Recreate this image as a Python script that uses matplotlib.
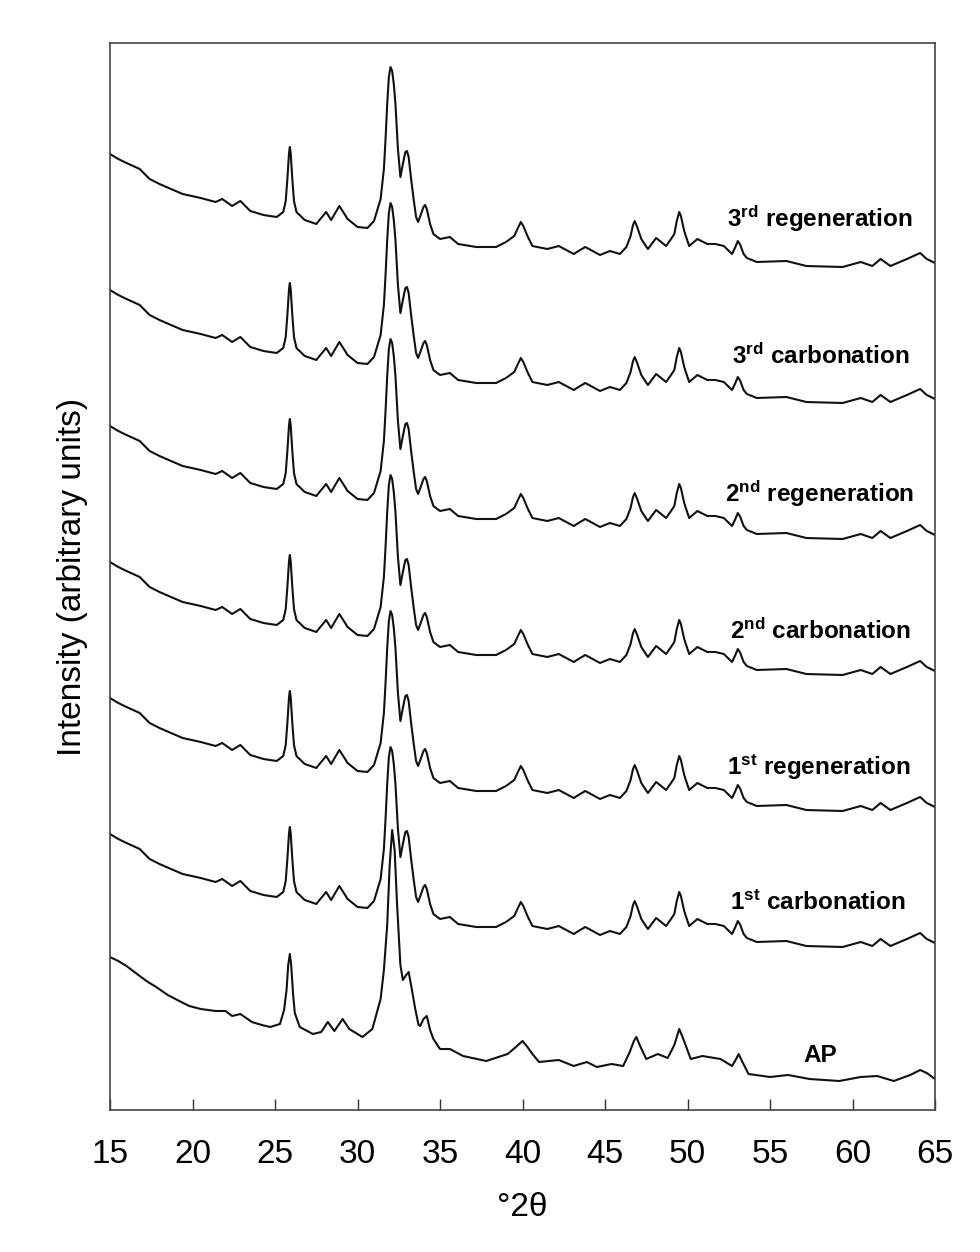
import matplotlib.pyplot as plt
from matplotlib import rcParams

# Шрифты
rcParams['font.family'] = ['Liberation Sans', 'DejaVu Sans']
rcParams['mathtext.fontset'] = 'custom'
rcParams['mathtext.rm'] = 'Liberation Sans:bold'
rcParams['mathtext.bf'] = 'Liberation Sans:bold'
rcParams['mathtext.default'] = 'rm'

# Профиль образцов после циклов (угол 2θ и интенсивность, отн. ед.)
two_theta_cyc = [15.0, 15.5, 16.0, 16.8, 17.4, 18.0, 19.4, 20.5, 21.4, 21.8, 22.4, 22.9,
                 23.5, 24.3, 25.1, 25.5, 25.65, 25.75, 25.85, 25.9, 25.95, 26.05, 26.15, 26.3,
                 26.8, 27.5, 28.1, 28.4, 28.9, 29.4, 30.0, 30.6, 31.0, 31.4, 31.6, 31.7,
                 31.8, 31.9, 32.0, 32.1, 32.2, 32.3, 32.45, 32.6, 32.75, 32.9, 33.0, 33.1,
                 33.25, 33.4, 33.55, 33.67, 33.85, 34.0, 34.1, 34.2, 34.4, 34.6, 35.0, 35.6,
                 36.1, 37.2, 38.4, 39.0, 39.5, 39.75, 39.9, 40.05, 40.3, 40.6, 41.5, 42.2,
                 43.1, 43.8, 44.7, 45.3, 45.9, 46.3, 46.55, 46.7, 46.8, 46.95, 47.2, 47.6,
                 48.1, 48.7, 49.0, 49.2, 49.35, 49.5, 49.6, 49.8, 50.1, 50.6, 51.2, 51.7,
                 52.2, 52.7, 52.9, 53.05, 53.2, 53.4, 53.6, 54.2, 56.0, 57.2, 59.4, 60.5,
                 61.2, 61.7, 62.3, 63.3, 64.1, 64.5, 65.0]
intensity_cyc = [115, 110, 106, 100, 90, 85, 75, 71, 67, 70, 63, 68,
                 58, 54, 52, 57, 68, 90, 116, 122, 116, 90, 68, 57,
                 49, 45, 57, 49, 63, 50, 42, 41, 48, 70, 100, 130,
                 165, 192, 202, 198, 185, 165, 120, 92, 105, 117, 118, 112,
                 90, 70, 52, 47, 55, 62, 64, 60, 45, 35, 30, 32,
                 25, 22, 22, 27, 33, 42, 47, 43, 33, 23, 20, 23,
                 15, 22, 14, 18, 15, 22, 33, 44, 48, 42, 30, 20,
                 31, 23, 30, 35, 48, 57, 53, 38, 23, 30, 25, 25,
                 23, 15, 22, 28, 24, 15, 11, 7, 8, 3, 2, 7,
                 3, 10, 3, 10, 16, 10, 6]

# Профиль исходного образца (AP)
two_theta_ap = [15.0, 15.5, 16.0, 16.8, 17.3, 17.8, 18.5, 19.2, 19.8, 20.5, 21.4, 22.0,
                22.4, 22.9, 23.6, 24.2, 24.7, 25.3, 25.55, 25.7, 25.8, 25.9, 25.98, 26.1,
                26.2, 26.5, 27.3, 27.8, 28.2, 28.6, 29.1, 29.5, 30.3, 30.9, 31.4, 31.6,
                31.8, 31.95, 32.1, 32.25, 32.4, 32.6, 32.75, 32.95, 33.1, 33.3, 33.5, 33.7,
                33.8, 34.0, 34.2, 34.4, 34.6, 35.0, 35.6, 36.4, 37.8, 39.1, 39.6, 40.0,
                40.3, 40.6, 41.0, 42.2, 43.1, 43.9, 44.5, 45.4, 46.1, 46.5, 46.75, 46.9,
                47.1, 47.5, 48.2, 48.8, 49.2, 49.5, 49.7, 50.2, 50.9, 52.0, 52.7, 52.95,
                53.1, 53.3, 53.7, 55.0, 56.1, 57.4, 59.2, 60.5, 61.5, 62.5, 63.5, 64.1,
                64.5, 65.0]
intensity_ap = [128, 124, 119, 109, 103, 98, 90, 84, 79, 76, 74, 74,
                69, 71, 63, 60, 58, 61, 75, 95, 120, 131, 120, 90,
                72, 58, 51, 53, 63, 54, 66, 56, 48, 56, 86, 115,
                160, 220, 255, 235, 180, 120, 105, 110, 113, 95, 76, 60,
                59, 66, 69, 55, 46, 36, 36, 29, 24, 31, 38, 44,
                38, 31, 23, 25, 19, 23, 18, 21, 19, 33, 44, 48,
                40, 26, 31, 27, 40, 56, 48, 26, 29, 26, 19, 26,
                31, 24, 11, 8, 10, 6, 4, 8, 9, 4, 10, 15,
                12, 6]

# Подписи и смещения кривых
labels = ['3$^{rd}$ regeneration', '3$^{rd}$ carbonation', '2$^{nd}$ regeneration',
          '2$^{nd}$ carbonation', '1$^{st}$ regeneration', '1$^{st}$ carbonation', 'AP']
offsets = [841, 705, 569, 433, 297, 161, 25]
label_x = [52.4, 52.7, 52.3, 52.6, 52.4, 52.6, 57.0]
label_y = [891, 754, 616, 479, 343, 207, 55]

fig = plt.figure(figsize=(9.8, 12.52), dpi=100)
ax = fig.add_axes([110 / 980, 142 / 1252, 825 / 980, 1067 / 1252])

for i, off in enumerate(offsets):
    if labels[i] == 'AP':
        xs, ys = two_theta_ap, intensity_ap
    else:
        xs, ys = two_theta_cyc, intensity_cyc
    ax.plot(xs, [v + off for v in ys], color='#111111', lw=1.5)
    ax.text(label_x[i], label_y[i], labels[i], fontsize=17.5, fontweight='bold',
            ha='left', va='center')

ax.set_xlim(15, 65)
ax.set_ylim(0, 1067)
ax.set_xticks(range(15, 66, 5))
ax.set_yticks([])
ax.tick_params(axis='x', direction='in', length=8, width=1, labelsize=24, pad=21,
               color='#333333')
for sp in ax.spines.values():
    sp.set_color('#444444')
    sp.set_linewidth(1.2)

ax.set_xlabel('°2θ', fontsize=24, labelpad=16)
ax.set_ylabel('Intensity (arbitrary units)', fontsize=24, labelpad=16)

fig.savefig('out.png', dpi=100)
plt.close()
